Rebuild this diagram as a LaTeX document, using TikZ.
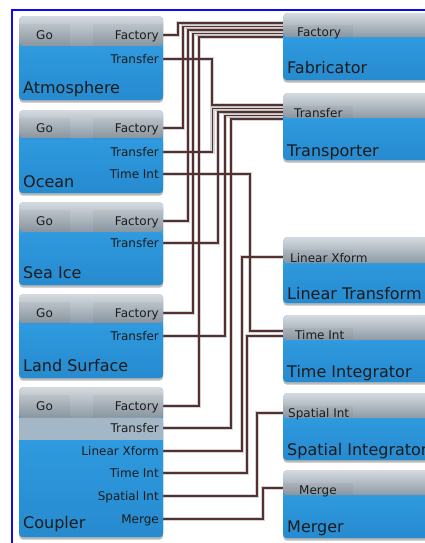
\documentclass[tikz,border=0pt]{standalone}
\usepackage{fontspec}
\setmainfont{DejaVu Sans}
\usetikzlibrary{shadows}
\pgfdeclarelayer{bg}
\pgfsetlayers{bg,main}
\definecolor{boxblue}{HTML}{33A3E8}
\definecolor{boxbluedk}{HTML}{278ACF}
\definecolor{hdrtop}{HTML}{D4DADF}
\definecolor{hdrbot}{HTML}{8D9AA5}
\definecolor{cplband}{HTML}{A3B7C6}
\definecolor{wirecol}{HTML}{553030}
\definecolor{halocol}{HTML}{A0A0A0}
\definecolor{frameblue}{HTML}{0A0AF5}
\definecolor{txtcol}{HTML}{1C1C1C}
\begin{document}
\begin{tikzpicture}[x=1pt,y=-1pt,
  compbox/.style={rounded corners=4pt, fill=boxblue, inner sep=0pt, anchor=north west,
    drop shadow={shadow xshift=0pt,shadow yshift=-2.5pt,opacity=0.45,fill=black!60},
    path picture={
      \shade[top color=boxblue,bottom color=boxbluedk] ([yshift=-#1]path picture bounding box.north west) rectangle (path picture bounding box.south east);
      \shade[top color=hdrtop,bottom color=hdrbot] (path picture bounding box.north west) rectangle ([yshift=-#1]path picture bounding box.north east);
    }},
  lbox/.style={compbox=#1, minimum width=144pt},
  rbox/.style={compbox=#1, minimum width=170pt},
  tab/.style={fill=black, opacity=0.035},
  port/.style={font=\fontsize{12}{14}\selectfont, text=txtcol, inner xsep=4pt, inner ysep=0pt, text height=8.75pt, text depth=0pt},
  big/.style={font=\fontsize{16}{18}\selectfont, text=txtcol, inner sep=0pt, anchor=base west},
  wire/.style={draw=wirecol, line width=1.2pt},
  halo/.style={draw=halocol, line width=4.5pt, opacity=0.45}
]
\useasboundingbox (0,0) rectangle (425,543);

% ---------- left components ----------
\node[lbox=30pt, minimum height=84pt] (atm) at (19,16) {};
\node[lbox=28pt, minimum height=83pt] (ocn) at (19,110) {};
\node[lbox=30pt, minimum height=83pt] (ice) at (19,202) {};
\node[lbox=29pt, minimum height=84pt] (lnd) at (19,294) {};
\node[lbox=31pt, minimum height=150pt] (cpl) at (19,387) {};
\fill[cplband] (19,418) rectangle (163,440);

% ---------- right components ----------
\node[rbox=24pt, minimum height=67pt] (fab) at (283,13) {};
\node[rbox=25pt, minimum height=67pt] (trn) at (283,93) {};
\node[rbox=26pt, minimum height=66pt] (lin) at (283,237) {};
\node[rbox=25pt, minimum height=67pt] (tim) at (283,315) {};
\node[rbox=25pt, minimum height=67pt] (spa) at (283,393) {};
\node[rbox=25pt, minimum height=68pt] (mrg) at (283,470) {};

% ---------- subtle label tabs in the headers ----------
\foreach \t in {24,118,210,302,395}{
  \fill[tab] (19,\t) rectangle (70,\t+22);
  \fill[tab] (93,\t) rectangle (163,\t+22);
}
\foreach \t/\b in {25/37,106/118,250/263,328/340,406/418,483/495}{
  \fill[tab] (283,\t) rectangle (353,\b);
}

% ---------- left labels ----------
\node[port, anchor=west] (atmGo) at (32,35) {Go};
\node[port, anchor=east] (atmF) at (163,35) {Factory};
\node[port, anchor=east] (atmT) at (163,59) {Transfer};
\node[big] (atmL) at (23,93.5) {Atmosphere};

\node[port, anchor=west] (ocnGo) at (32,128) {Go};
\node[port, anchor=east] (ocnF) at (163,128) {Factory};
\node[port, anchor=east] (ocnT) at (163,152) {Transfer};
\node[port, anchor=east] (ocnTI) at (163,174) {Time Int};
\node[big] (ocnL) at (23,187) {Ocean};

\node[port, anchor=west] (iceGo) at (32,221) {Go};
\node[port, anchor=east] (iceF) at (163,221) {Factory};
\node[port, anchor=east] (iceT) at (163,243) {Transfer};
\node[big] (iceL) at (23,278) {Sea Ice};

\node[port, anchor=west] (lndGo) at (32,313) {Go};
\node[port, anchor=east] (lndF) at (163,313) {Factory};
\node[port, anchor=east] (lndT) at (163,336) {Transfer};
\node[big] (lndL) at (23,371) {Land Surface};

\node[port, anchor=west] (cplGo) at (32,406) {Go};
\node[port, anchor=east] (cplF) at (163,406) {Factory};
\node[port, anchor=east] (cplT) at (163,428) {Transfer};
\node[port, anchor=east] (cplLX) at (163,451) {Linear Xform};
\node[port, anchor=east] (cplTI) at (163,473) {Time Int};
\node[port, anchor=east] (cplSI) at (163,496) {Spatial Int};
\node[port, anchor=east] (cplM) at (163,519) {Merge};
\node[big] (cplL) at (23,528) {Coupler};

% ---------- right labels ----------
\node[port, anchor=west] (fabP) at (293,32) {Factory};
\node[big] (fabL) at (287,73.5) {Fabricator};
\node[port, anchor=west] (trnP) at (290,113) {Transfer};
\node[big] (trnL) at (287,156) {Transporter};
\node[port, anchor=west] (linP) at (286,258) {Linear Xform};
\node[big] (linL) at (287,299) {Linear Transform};
\node[port, anchor=west] (timP) at (291,335) {Time Int};
\node[big] (timL) at (287,377) {Time Integrator};
\node[port, anchor=west] (spaP) at (284,413) {Spatial Int};
\node[big] (spaL) at (287,455) {Spatial Integrator};
\node[port, anchor=west] (mrgP) at (295,490) {Merge};
\node[big] (mrgL) at (287,532.5) {Merger};

% ---------- wire end points on the right boxes ----------
\coordinate (fab1) at (283,23);
\coordinate (fab2) at (283,26.5);
\coordinate (fab3) at (283,30);
\coordinate (fab4) at (283,33.5);
\coordinate (fab5) at (283,37);
\coordinate (trn1) at (283,105);
\coordinate (trn2) at (283,108.5);
\coordinate (trn3) at (283,112);
\coordinate (trn4) at (283,115.5);
\coordinate (trn5) at (283,119);
\coordinate (lin1) at (283,257);
\coordinate (tim1) at (283,331);
\coordinate (tim2) at (283,336);
\coordinate (spa1) at (283,413);
\coordinate (mrg1) at (283,488);

\newcommand{\allwires}{%
  \draw[wire] (atmF.east) -| (178,0 |- fab1) -- (fab1);
  \draw[wire] (ocnF.east) -| (183,0 |- fab2) -- (fab2);
  \draw[wire] (iceF.east) -| (188,0 |- fab3) -- (fab3);
  \draw[wire] (lndF.east) -| (193,0 |- fab4) -- (fab4);
  \draw[wire] (cplF.east) -| (199,0 |- fab5) -- (fab5);
  \draw[wire] (atmT.east) -| (212,0 |- trn1) -- (trn1);
  \draw[wire] (ocnT.east) -| (212.5,0 |- trn2) -- (trn2);
  \draw[wire] (iceT.east) -| (218,0 |- trn3) -- (trn3);
  \draw[wire] (lndT.east) -| (225,0 |- trn4) -- (trn4);
  \draw[wire] (cplT.east) -| (231,0 |- trn5) -- (trn5);
  \draw[wire] (cplLX.east) -| (242,0 |- lin1) -- (lin1);
  \draw[wire] (ocnTI.east) -| (250,0 |- tim1) -- (tim1);
  \draw[wire] (cplTI.east) -| (247,0 |- tim2) -- (tim2);
  \draw[wire] (cplSI.east) -| (257,0 |- spa1) -- (spa1);
  \draw[wire] (cplM.east) -| (263,0 |- mrg1) -- (mrg1);
}

\begin{pgfonlayer}{bg}
  \fill[white] (0,0) rectangle (425,543);
  \begin{scope}[wire/.style={halo}]
    \allwires
  \end{scope}
  \allwires
\end{pgfonlayer}

% ---------- frame ----------
\draw[frameblue, line width=2pt] (12,543) -- (12,10) -- (425,10);
\end{tikzpicture}
\end{document}
